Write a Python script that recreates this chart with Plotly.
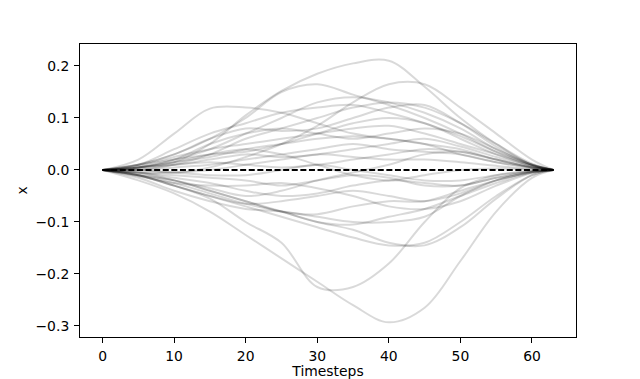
import plotly.graph_objects as go

timesteps = [0, 5, 10, 15, 20, 25, 30, 35, 40, 45, 50, 55, 60, 63]

traj_01 = [0, .005, .015, .05, .105, .152, .185, .205, .21, .16, .10, .05, .01, 0]
traj_02 = [0, 0, -.005, .005, .025, .05, .085, .13, .165, .165, .12, .07, .02, 0]
traj_03 = [0, .02, .07, .118, .12, .11, .09, .07, .06, .05, .03, .015, .005, 0]
traj_04 = [0, .01, .03, .06, .10, .15, .165, .145, .125, .10, .07, .035, .008, 0]
traj_05 = [0, .005, .02, .04, .07, .10, .13, .14, .13, .11, .08, .04, .01, 0]
traj_06 = [0, .01, .04, .07, .09, .11, .12, .125, .11, .09, .065, .035, .01, 0]
traj_07 = [0, 0, .01, .03, .06, .08, .10, .12, .13, .12, .09, .05, .012, 0]
traj_08 = [0, .01, .03, .06, .08, .075, .08, .10, .12, .125, .09, .045, .01, 0]
traj_09 = [0, .005, .02, .05, .07, .08, .07, .06, .07, .08, .07, .04, .01, 0]
traj_10 = [0, .008, .025, .04, .05, .06, .07, .08, .085, .07, .05, .03, .008, 0]
traj_11 = [0, .005, .015, .025, .04, .05, .06, .065, .06, .05, .04, .02, .005, 0]
traj_12 = [0, .01, .02, .03, .035, .05, .07, .09, .10, .09, .06, .03, .008, 0]
traj_13 = [0, 0, .005, .01, .02, .03, .04, .05, .04, .035, .03, .015, .004, 0]
traj_14 = [0, .005, .01, .02, .03, .025, .03, .04, .05, .06, .045, .025, .006, 0]
traj_15 = [0, -.005, -.005, 0, .01, .02, .03, .025, .02, .02, .015, .008, .002, 0]
traj_16 = [0, .003, .01, .015, .01, .005, .01, .02, .03, .04, .035, .02, .005, 0]
traj_17 = [0, -.02, -.045, -.08, -.125, -.17, -.215, -.26, -.293, -.265, -.175, -.08, -.015, 0]
traj_18 = [0, -.01, -.03, -.055, -.10, -.14, -.225, -.225, -.18, -.10, -.035, -.01, -.002, 0]
traj_19 = [0, -.01, -.03, -.05, -.07, -.09, -.11, -.13, -.145, -.14, -.10, -.05, -.01, 0]
traj_20 = [0, -.005, -.02, -.04, -.06, -.08, -.10, -.115, -.14, -.145, -.11, -.055, -.01, 0]
traj_21 = [0, -.015, -.04, -.06, -.075, -.08, -.09, -.10, -.10, -.09, -.05, -.02, -.004, 0]
traj_22 = [0, -.01, -.02, -.04, -.06, -.08, -.085, -.07, -.06, -.06, -.04, -.02, -.005, 0]
traj_23 = [0, -.01, -.03, -.05, -.065, -.06, -.05, -.04, -.05, -.06, -.045, -.02, -.004, 0]
traj_24 = [0, -.005, -.015, -.025, -.04, -.05, -.045, -.03, -.02, -.025, -.03, -.015, -.003, 0]
traj_25 = [0, -.012, -.025, -.03, -.03, -.025, -.035, -.05, -.07, -.075, -.06, -.03, -.006, 0]
traj_26 = [0, -.005, -.01, -.015, -.02, -.03, -.02, -.01, -.015, -.03, -.03, -.015, -.003, 0]
traj_27 = [0, 0, -.005, -.01, -.01, 0, .01, 0, -.01, -.02, -.02, -.01, -.002, 0]
traj_28 = [0, -.008, -.02, -.035, -.05, -.04, -.02, -.005, .01, .03, .035, .02, .005, 0]
traj_29 = [0, .005, .015, .03, .04, .03, .01, -.01, -.02, -.01, 0, .003, .001, 0]
traj_30 = [0, -.01, -.025, -.045, -.065, -.08, -.10, -.105, -.09, -.075, -.05, -.025, -.005, 0]

trajectories = [traj_01, traj_02, traj_03, traj_04, traj_05, traj_06, traj_07, traj_08,
                traj_09, traj_10, traj_11, traj_12, traj_13, traj_14, traj_15, traj_16,
                traj_17, traj_18, traj_19, traj_20, traj_21, traj_22, traj_23, traj_24,
                traj_25, traj_26, traj_27, traj_28, traj_29, traj_30]

reference_x = [0, 63]
reference_y = [0, 0]

x_ticks = [0, 10, 20, 30, 40, 50, 60]
y_ticks = [-0.3, -0.2, -0.1, 0.0, 0.1, 0.2]
y_tick_labels = ["\u22120.3", "\u22120.2", "\u22120.1", "0.0", "0.1", "0.2"]

fig = go.Figure()
for tr in trajectories:
    fig.add_trace(go.Scatter(
        x=timesteps, y=tr, mode="lines",
        line=dict(color="rgba(0,0,0,0.15)", width=2, shape="spline", smoothing=1.0),
        showlegend=False, hoverinfo="skip"))

fig.add_trace(go.Scatter(
    x=reference_x, y=reference_y, mode="lines",
    line=dict(color="black", width=2, dash="6px,2.6px"),
    showlegend=False))

font = dict(family="DejaVu Sans", size=13.9, color="black")

fig.update_layout(
    width=640, height=379,
    margin=dict(l=80, r=64, t=44, b=42, pad=0),
    paper_bgcolor="white", plot_bgcolor="white",
    font=font,
    xaxis=dict(
        range=[-3.15, 66.15], tickvals=x_ticks, ticks="outside", ticklen=5,
        tickcolor="black", showline=True, linecolor="black", linewidth=1,
        mirror=True, showgrid=False, zeroline=False, tickfont=font,
        ticklabelstandoff=1,
        title=dict(text="Timesteps", font=font, standoff=7),
        automargin=False),
    yaxis=dict(
        range=[-0.3212, 0.2423], tickvals=y_ticks, ticktext=y_tick_labels,
        ticks="outside", ticklen=5, tickcolor="black", showline=True,
        linecolor="black", linewidth=1, mirror=True, showgrid=False,
        zeroline=False, tickfont=font, ticklabelstandoff=2,
        title=dict(text="x", font=font, standoff=4),
        automargin=False),
)

fig.write_html("out.html",
               config={"displayModeBar": False},
               post_script="document.body.style.margin='0';document.body.style.overflow='hidden';")
